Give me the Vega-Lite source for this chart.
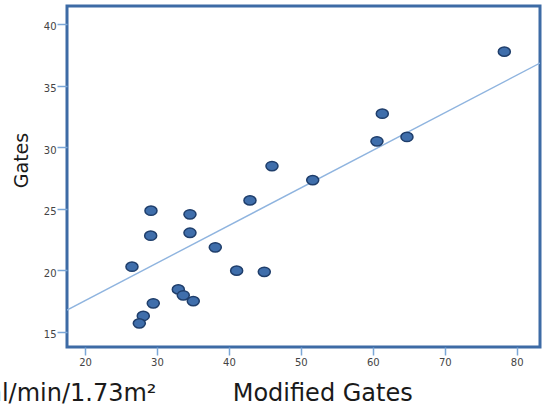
{
  "$schema": "https://vega.github.io/schema/vega-lite/v6.json",
  "width": 473,
  "height": 341,
  "autosize": {"type": "none"},
  "padding": {"left": 67, "top": 6, "right": 5, "bottom": 58},
  "background": "white",
  "datasets": {
    "points": [
      {"modified": 29.17, "gates": 24.83},
      {"modified": 34.59, "gates": 24.54},
      {"modified": 29.13, "gates": 22.80},
      {"modified": 34.59, "gates": 23.04},
      {"modified": 38.11, "gates": 21.86},
      {"modified": 42.93, "gates": 25.67},
      {"modified": 26.53, "gates": 20.28},
      {"modified": 41.08, "gates": 19.96},
      {"modified": 44.92, "gates": 19.87},
      {"modified": 32.97, "gates": 18.44},
      {"modified": 33.66, "gates": 17.96},
      {"modified": 35.05, "gates": 17.49},
      {"modified": 29.49, "gates": 17.31},
      {"modified": 28.10, "gates": 16.28},
      {"modified": 27.55, "gates": 15.68},
      {"modified": 78.28, "gates": 37.75},
      {"modified": 61.32, "gates": 32.71},
      {"modified": 60.58, "gates": 30.47},
      {"modified": 64.75, "gates": 30.82},
      {"modified": 45.99, "gates": 28.46},
      {"modified": 51.65, "gates": 27.32}
    ],
    "fit": [
      {"modified": 17.5, "gates": 16.76},
      {"modified": 83.24, "gates": 36.83}
    ]
  },
  "layer": [
    {
      "data": {"name": "fit"},
      "mark": {"type": "line", "color": "#8fb4df", "strokeWidth": 1.4, "clip": true},
      "encoding": {
        "x": {"field": "modified", "type": "quantitative"},
        "y": {"field": "gates", "type": "quantitative"}
      }
    },
    {
      "data": {"name": "points"},
      "mark": {
        "type": "point",
        "filled": true,
        "shape": "M-1,0 A1,0.77 0 1,1 1,0 A1,0.77 0 1,1 -1,0 Z",
        "size": 145,
        "fill": "#3f6eab",
        "stroke": "#1f3e6b",
        "strokeWidth": 1.5,
        "opacity": 1
      },
      "encoding": {
        "x": {
          "field": "modified",
          "type": "quantitative",
          "scale": {"domain": [17.5, 83.24], "nice": false, "zero": false},
          "axis": {
            "values": [20, 30, 40, 50, 60, 70, 80],
            "domain": false,
            "grid": false,
            "tickColor": "#7ba7d7",
            "tickSize": 8,
            "tickWidth": 1.5,
            "labelPadding": 2,
            "labelFont": "DejaVu Sans",
            "labelFontSize": 10,
            "labelColor": "#444444",
            "title": "ml/min/1.73m²\u00a0\u00a0\u00a0\u00a0\u00a0\u00a0\u00a0\u00a0\u00a0\u00a0Modified Gates",
            "titleFont": "DejaVu Sans",
            "titleFontSize": 24,
            "titleFontWeight": "normal",
            "titleColor": "#1a1a1a",
            "titleAlign": "left",
            "titleAnchor": "start",
            "titleBaseline": "alphabetic",
            "titleX": -89,
            "titleY": 53
          }
        },
        "y": {
          "field": "gates",
          "type": "quantitative",
          "scale": {"domain": [13.76, 41.46], "nice": false, "zero": false},
          "axis": {
            "values": [15, 20, 25, 30, 35, 40],
            "domain": false,
            "grid": false,
            "tickColor": "#7ba7d7",
            "tickSize": 10,
            "tickWidth": 1.5,
            "labelPadding": 1,
            "labelOffset": 3,
            "labelFont": "DejaVu Sans",
            "labelFontSize": 10,
            "labelColor": "#444444",
            "title": "Gates",
            "titleFont": "DejaVu Sans",
            "titleFontSize": 19,
            "titleFontWeight": "normal",
            "titleColor": "#1a1a1a",
            "titleAngle": -90,
            "titleAlign": "center",
            "titleBaseline": "middle",
            "titleX": -46,
            "titleY": 154
          }
        }
      }
    }
  ],
  "config": {
    "view": {"stroke": "#3d6ba5", "strokeWidth": 3}
  }
}
